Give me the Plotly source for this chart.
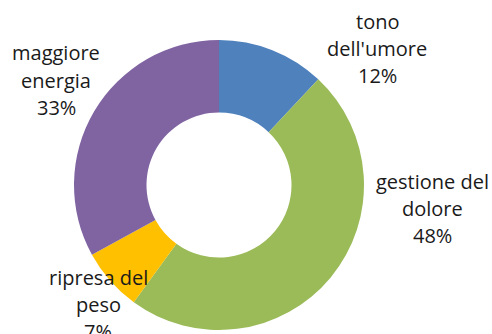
import plotly.graph_objects as go

# Slice data, clockwise from 12 o'clock
categories = ["tono<br>dell'umore", "gestione del<br>dolore", "ripresa del<br>peso", "maggiore<br>energia"]
values = [12, 48, 7, 33]
colors = ["#4F81BD", "#9BBB59", "#FFC000", "#8064A2"]

# Label anchor points (pixels from top-left) for the centre of the middle text line
label_px = [(377, 48), (432, 208), (98, 304), (56, 80)]

W, H = 492, 334
total = sum(values)

fig = go.Figure(
    go.Pie(
        labels=categories,
        values=values,
        hole=0.5,
        sort=False,
        direction="clockwise",
        rotation=0,
        marker=dict(colors=colors, line=dict(width=0)),
        textinfo="none",
        hoverinfo="label+percent",
        showlegend=False,
        domain=dict(x=[(219 - 145) / W, (219 + 145) / W],
                    y=[(H - 185 - 145) / H, (H - 185 + 145) / H]),
    )
)

annotations = []
for cat, val, (px, py) in zip(categories, values, label_px):
    lines = cat.split("<br>")
    pct = f"{round(100 * val / total)}%"
    text_lines = lines + [pct]
    step = 27
    for i, line in enumerate(text_lines):
        annotations.append(dict(
            text=line,
            x=px / W,
            y=1 - (py + (i - 1) * step) / H,
            xref="paper", yref="paper",
            xanchor="center", yanchor="middle",
            showarrow=False,
            font=dict(family="Open Sans", size=20, color="#1a1a1a"),
        ))

fig.update_layout(
    width=W, height=H,
    margin=dict(l=0, r=0, t=0, b=0),
    paper_bgcolor="white",
    plot_bgcolor="white",
    annotations=annotations,
)

fig.write_html("out.html")
